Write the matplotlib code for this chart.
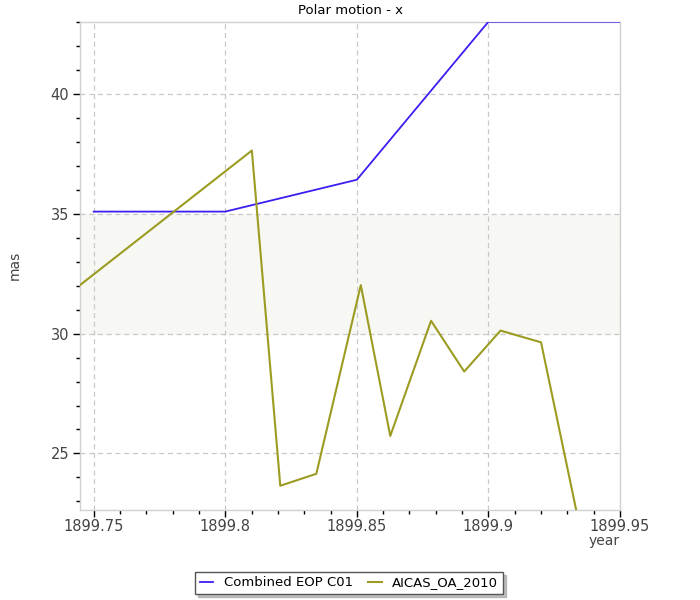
"""
Polar motion - x : Combined EOP C01 vs AICAS_OA_2010
"""

import matplotlib
matplotlib.use('Agg')
import matplotlib.pyplot as plt
from matplotlib.ticker import MultipleLocator, FormatStrFormatter

# data
c01_year = [1899.75, 1899.80, 1899.85, 1899.90, 1899.95]
c01_mas = [35.10, 35.10, 36.43, 43.03, 43.03]

aicas_year = [1899.7449, 1899.8101, 1899.8209, 1899.8346, 1899.8515, 1899.8627,
              1899.8782, 1899.8908, 1899.9046, 1899.9200, 1899.9340]
aicas_mas = [32.04, 37.65, 23.65, 24.15, 32.03, 25.73,
             30.54, 28.42, 30.13, 29.64, 22.30]

band_low, band_high = 30.0, 35.0
x_min, x_max = 1899.7449, 1899.95
y_min, y_max = 22.625, 43.03

fig = plt.figure(figsize=(7, 6), dpi=100)
ax = fig.add_axes([0.1147, 0.1495, 0.771, 0.8143])

# shaded band
ax.axhspan(band_low, band_high, color='#f7f7f3', zorder=0)

ax.plot(c01_year, c01_mas, color='#3a1ef0', lw=1.3, label='Combined EOP C01', zorder=3)
ax.plot(aicas_year, aicas_mas, color='#9c9c22', lw=1.5, label='AICAS_OA_2010', zorder=3)

ax.set_xlim(x_min, x_max)
ax.set_ylim(y_min, y_max)

ax.xaxis.set_major_locator(MultipleLocator(0.05))
ax.xaxis.set_minor_locator(MultipleLocator(0.01))
ax.yaxis.set_major_locator(MultipleLocator(5))
ax.yaxis.set_minor_locator(MultipleLocator(1))
ax.xaxis.set_major_formatter(plt.FuncFormatter(lambda v, p: ('%.2f' % v).rstrip('0')))
ax.yaxis.set_major_formatter(FormatStrFormatter('%d'))

ax.grid(True, which='major', color='#c8c8c8', linestyle=(0, (4, 3)), lw=0.9, zorder=1)
for s in ax.spines.values():
    s.set_color('#d0d0d0')
    s.set_linewidth(1.0)

ax.tick_params(axis='x', which='major', pad=1.5)
ax.tick_params(axis='y', which='major', pad=3)
ax.tick_params(which='major', length=5, width=1, color='black',
               labelsize=10.5, labelcolor='#444444')
ax.tick_params(which='minor', length=3, width=1, color='black')

fig.text(0.5, 1 - 10 / 600, 'Polar motion - x', ha='center', va='center', fontsize=9.5, color='black')
fig.text(15 / 700, 1 - 265 / 600, 'mas', rotation=90, ha='center', va='center',
         fontsize=10, color='#444444')
fig.text(620 / 700, 1 - 541 / 600, 'year', ha='right', va='center', fontsize=10, color='#444444')

leg = fig.legend(loc='center', bbox_to_anchor=(349 / 700, 1 - 583 / 600), ncol=2,
                 fancybox=False, shadow={'color': '#999999', 'alpha': 0.6}, fontsize=9.5,
                 handlelength=1.0, handletextpad=0.8, columnspacing=1.2,
                 borderpad=0.35, framealpha=1)
leg.get_frame().set_edgecolor('#555555')
leg.get_frame().set_linewidth(1.0)

fig.savefig('out.png', dpi=100)
